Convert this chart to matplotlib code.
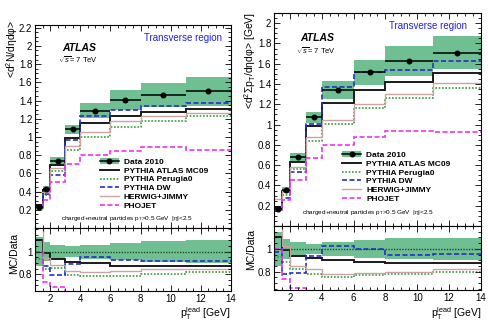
import numpy as np
import matplotlib
matplotlib.use('Agg')
import matplotlib.pyplot as plt
from matplotlib.lines import Line2D
from matplotlib.patches import Patch
from matplotlib.ticker import MultipleLocator, FixedLocator, FuncFormatter

plt.rcParams['font.family'] = ['Liberation Sans', 'DejaVu Sans']
plt.rcParams['mathtext.fontset'] = 'custom'
plt.rcParams['mathtext.rm'] = 'Liberation Sans'
plt.rcParams['mathtext.it'] = 'Liberation Sans:italic'
plt.rcParams['mathtext.bf'] = 'Liberation Sans:bold'

# leading-track pT bins [GeV]
edges = [1, 1.5, 2, 3, 4, 6, 8, 11, 14]

# charged+neutral multiplicity density, transverse region
nch_data = [0.23, 0.425, 0.74, 1.085, 1.29, 1.41, 1.46, 1.50]
nch_syst = [0.03, 0.035, 0.045, 0.05, 0.08, 0.11, 0.135, 0.155]
nch_mc09 = [0.253, 0.42, 0.69, 0.985, 1.155, 1.235, 1.27, 1.305]
nch_perugia0 = [0.215, 0.36, 0.63, 0.86, 1.005, 1.11, 1.17, 1.225]
nch_dw = [0.23, 0.37, 0.585, 0.965, 1.23, 1.30, 1.34, 1.37]
nch_herwig = [0.39, 0.40, 0.655, 0.90, 1.06, 1.17, 1.235, 1.265]
nch_phojet = [0.23, 0.31, 0.51, 0.70, 0.80, 0.85, 0.89, 0.855]

# scalar sum pT density, transverse region [GeV]
pt_data = [0.17, 0.352, 0.68, 1.07, 1.34, 1.515, 1.626, 1.71]
pt_syst = [0.025, 0.03, 0.04, 0.05, 0.085, 0.12, 0.15, 0.16]
pt_mc09 = [0.187, 0.35, 0.635, 0.985, 1.21, 1.345, 1.42, 1.505]
pt_perugia0 = [0.158, 0.31, 0.56, 0.835, 1.01, 1.165, 1.265, 1.365]
pt_dw = [0.165, 0.275, 0.535, 1.005, 1.37, 1.515, 1.54, 1.63]
pt_herwig = [0.27, 0.36, 0.58, 0.88, 1.05, 1.20, 1.30, 1.41]
pt_phojet = [0.17, 0.26, 0.45, 0.675, 0.80, 0.875, 0.94, 0.925]

labels = ['PYTHIA ATLAS MC09', 'PYTHIA Perugia0', 'PYTHIA DW',
          'HERWIG+JIMMY', 'PHOJET']
styles = [
    dict(color='#1a1a1a', ls='-', lw=1.4),
    dict(color='#3c9a3c', ls=(0, (1, 1)), lw=1.2),
    dict(color='#2430c8', ls=(0, (3, 1.5)), lw=1.2),
    dict(color='#c9a4a4', ls='-', lw=1.0),
    dict(color='#ee33ee', ls=(0, (3, 1.5)), lw=1.2),
]
band_color = '#6fbf92'

W, H = 489, 323


def box(x0, y0, x1, y1):
    return [x0 / W, 1 - y1 / H, (x1 - x0) / W, (y1 - y0) / H]


def style_axis(ax):
    ax.set_xlim(1, 14)
    ax.xaxis.set_major_locator(MultipleLocator(2))
    ax.xaxis.set_minor_locator(MultipleLocator(0.5))
    ax.tick_params(which='both', direction='in', top=True, right=True,
                   labelsize=7, pad=2, width=0.6)
    ax.tick_params(which='major', length=4.5)
    ax.tick_params(which='minor', length=2.2)
    ax.yaxis.set_major_formatter(FuncFormatter(lambda v, _: f'{v:g}'))
    for s in ax.spines.values():
        s.set_linewidth(0.8)


def draw(fig, main_box, ratio_box, data, syst, mcs, ymax, yticks,
         rlim, txt, leg_y):
    ax = fig.add_axes(box(*main_box))
    rax = fig.add_axes(box(*ratio_box))
    data = np.array(data)
    syst = np.array(syst)
    e = np.array(edges)
    centers = 0.5 * (e[1:] + e[:-1])
    half = 0.5 * (e[1:] - e[:-1])

    ax.stairs(data + syst, e, baseline=data - syst, fill=True,
              color=band_color, lw=0)
    for vals, st in zip(mcs, styles):
        ax.stairs(vals, e, baseline=None, **st)
    ax.errorbar(centers, data, xerr=half, yerr=0.008 * data, fmt='o',
                color='k', ms=3.3, lw=1.1, capsize=0, zorder=5)

    style_axis(ax)
    ax.set_ylim(0, ymax)
    ax.yaxis.set_major_locator(FixedLocator(yticks))
    ax.yaxis.set_minor_locator(MultipleLocator(0.05))
    ax.tick_params(labelbottom=False)

    # ratio panel
    rel = syst / data
    rax.stairs(1 + rel, e, baseline=1 - rel, fill=True,
               color=band_color, lw=0)
    rax.axhline(1, color='#1d4d2a', ls=(0, (1, 1)), lw=1.0)
    for vals, st in zip(mcs, styles):
        rax.stairs(np.array(vals) / data, e, baseline=None, **st)
    style_axis(rax)
    rax.set_ylim(*rlim)
    rax.yaxis.set_major_locator(FixedLocator([0.8, 1.0]))
    rax.yaxis.set_minor_locator(MultipleLocator(0.05))

    # annotations
    ax.text(txt[0], txt[1], 'ATLAS', transform=ax.transAxes,
            fontsize=7.5, fontweight='bold', style='italic', va='center')
    ax.text(txt[0] - 0.02, txt[1] - 0.058, r'$\sqrt{s}$= 7 TeV',
            transform=ax.transAxes, fontsize=5.5, va='center')
    ax.text(0.555, txt[2], 'Transverse region', transform=ax.transAxes,
            fontsize=7, color='#2020e0', va='center')
    ax.text(0.135, txt[3],
            r'charged+neutral particles p$_{\rm T}$>0.5 GeV  |η|<2.5',
            transform=ax.transAxes, fontsize=4.6, va='center')

    handles = [(Patch(facecolor=band_color, edgecolor='none'),
                Line2D([], [], color='k', marker='o', ms=3.3, lw=1.1))]
    handles += [Line2D([], [], **st) for st in styles]
    ax.legend(handles, ['Data 2010'] + labels, loc='upper left',
              bbox_to_anchor=(0.33, leg_y), frameon=False,
              prop=dict(size=6, weight='bold'), handlelength=2.3,
              handletextpad=0.6, labelspacing=0.12, borderpad=0,
              borderaxespad=0)
    return ax, rax


fig = plt.figure(figsize=(4.89, 3.23), dpi=100)

draw(fig, (35, 25, 231, 228), (35, 228, 231, 291),
     nch_data, nch_syst,
     [nch_mc09, nch_perugia0, nch_dw, nch_herwig, nch_phojet],
     2.23, np.arange(0.2, 2.21, 0.2), (0.65, 1.21),
     (0.138, 0.887, 0.935, 0.045), 0.345)

draw(fig, (274, 13, 481, 226), (274, 226, 481, 290),
     pt_data, pt_syst,
     [pt_mc09, pt_perugia0, pt_dw, pt_herwig, pt_phojet],
     2.1, np.arange(0.2, 2.01, 0.2), (0.64, 1.2),
     (0.126, 0.883, 0.938, 0.062), 0.352)

# axis titles
fig.text(12 / W, 1 - 20 / H, r'<d$^{2}$N/dηdφ>', rotation=90,
         ha='center', va='top', fontsize=7.5)
fig.text(250 / W, 1 - 12 / H, r'<d$^{2}$Σp$_{\rm T}$/dηdφ> [GeV]',
         rotation=90, ha='center', va='top', fontsize=7.5)
fig.text(14 / W, 1 - 254 / H, 'MC/Data', rotation=90,
         ha='center', va='center', fontsize=7.5)
fig.text(251 / W, 1 - 250 / H, 'MC/Data', rotation=90,
         ha='center', va='center', fontsize=7.5)
fig.text(231 / W, 1 - 314 / H, r'p$_{\rm T}^{\rm lead}$ [GeV]',
         ha='right', va='center', fontsize=7.5)
fig.text(482 / W, 1 - 314 / H, r'p$_{\rm T}^{\rm lead}$ [GeV]',
         ha='right', va='center', fontsize=7.5)

fig.savefig('out.png', dpi=100)
